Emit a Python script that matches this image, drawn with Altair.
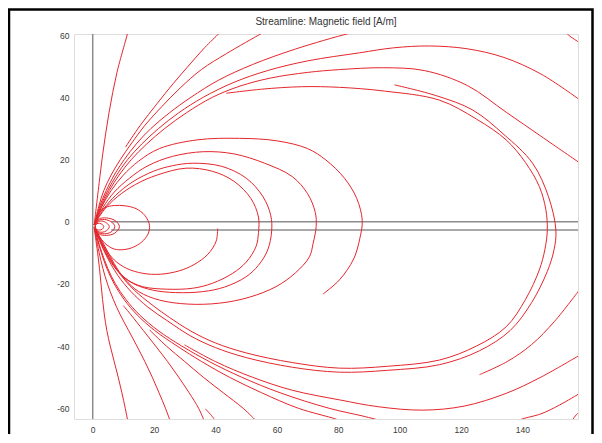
import altair as alt
import pandas as pd

# ---------------- axes / layout values ----------------
x_domain = [-6.1, 158.1]
y_domain = [-63.45, 60.35]
x_ticks = [0, 20, 40, 60, 80, 100, 120, 140]
y_ticks = [-60, -40, -20, 0, 20, 40, 60]
title_text = "Streamline: Magnetic field [A/m]"

# geometry lines (gray): vertical axis line and the two horizontal rod edges
axis_line_x = 0.0
rod_y = [0.0, -2.7]
rod_x_start = 6.0

# ---------------- streamlines (data units) ----------------
# upper fan
line_A = [(0.5, -1), (1.2, 5), (1.8, 10), (3.3, 22), (5.3, 35), (7.9, 48), (11.3, 60.4), (11.4, 61)]
line_B = [(10.7, 24), (15.5, 31), (21, 38), (26.3, 44.5), (32, 51), (36.5, 56), (41, 60.4), (41.5, 61)]
line_C = [(0.5, -1), (2.0, 5), (3.6, 10), (6, 15), (9, 20), (12.5, 25), (17, 31), (22.5, 37), (28.5, 43),
          (35.5, 49), (43.5, 54), (54.8, 60.4), (56, 61)]
line_D = [(0.5, -1), (2.3, 5), (4.4, 10), (7, 15), (10.3, 20), (14.2, 25), (19, 30), (25, 35), (32, 40),
          (41, 45.5), (52, 50.5), (66, 55.5), (83, 60.4), (86, 61)]
line_L1 = [(0.5, -1), (2.6, 5), (4.9, 10), (7.8, 15), (11.4, 20), (16, 25), (21.5, 30), (28, 35), (36, 40),
           (46, 44.8), (57, 48.6), (70, 51.7), (86.9, 54.3), (98, 55.9), (109.7, 56.5), (122, 55.6),
           (134, 52.8), (146, 47.5), (158.5, 39.3)]
line_L2 = [(0.5, -1), (2.9, 5), (5.4, 10), (8.6, 15), (12.6, 20), (17.6, 25), (23.5, 30), (30.5, 35), (39, 40),
           (48, 43.6), (58, 46.2), (70, 48), (80.4, 48.9), (94.5, 49.5), (108, 48.6), (122, 43.8),
           (134.7, 35.2), (146, 27.5), (158.5, 19)]
line_L3 = [(43.5, 41.3), (55, 42.6), (68, 43.4), (80.4, 43.2), (95, 42), (112.9, 39.1), (125, 33), (134.7, 26.3),
           (141, 19), (145.5, 11.3), (147.6, 4), (148.1, -2.7), (147.3, -9), (145.5, -15.5), (141, -25),
           (134.7, -33.8), (125, -40), (112.9, -44.5), (96, -46.5), (80.4, -47.1), (65, -45.3), (50, -42.2),
           (40, -39), (32, -35.2), (25, -30.8), (19, -26.5), (13.5, -22), (9, -17), (5.5, -11.5), (2.8, -6.5),
           (0.5, -2)]
line_L4 = [(98.3, 44), (112, 40.5), (123.8, 35.9), (134, 28), (143.3, 18.8), (148.5, 8), (150.9, -2.7),
           (150.3, -9), (148.1, -16), (143, -26), (136, -35), (126, -41.5), (112.9, -46), (96, -47.8),
           (80.4, -48.4), (65, -46.8), (50, -43.7), (40, -40.5), (32, -36.8), (24.5, -32), (18, -27.5),
           (12.5, -22.5), (8.2, -17.3), (5, -12), (2.5, -6.8), (0.5, -2)]
# loops crossing the rod
loop_87 = [(0.5, -1), (2.8, 4.5), (6, 10), (10, 15), (15, 19.5), (21.7, 23.5), (34, 26.3), (47.8, 26.8),
           (60, 26), (70, 23.5), (76, 19.8), (82, 14), (86, 7.5), (87.8, 0.5), (87, -5.5), (85, -12),
           (80.4, -18.7), (75, -23.3)]
loop_73 = [(0.5, -1), (3.3, 4.5), (7, 9.5), (12, 14), (18, 18), (26, 21), (36, 22.5), (46, 21.8), (56, 18.8),
           (65, 14.5), (70, 9), (72.5, 3), (72.8, -1.5), (71.8, -7), (70.6, -11.3), (66, -16.5), (59.7, -20.9),
           (51, -24.3), (41.3, -26.2), (31, -26.5), (21.7, -25.2), (15, -22.5), (10.5, -18.5), (7, -13.5),
           (4, -8), (1.5, -3.5), (0.5, -2)]
loop_58 = [(0.5, -1), (3.5, 4), (7.5, 8.5), (13, 12.8), (20, 16.3), (26, 18), (32.6, 18.8), (42, 17.8),
           (50, 14), (55.5, 8), (58, 2), (58.3, -3), (57, -9.1), (54, -14), (50, -17.7), (43, -21),
           (35.8, -22.5), (27, -22.8), (19.5, -22), (13, -19.8), (8.5, -16.3), (5, -11.5), (2.2, -5.8),
           (0.5, -2)]
loop_54 = [(0.5, -1), (3.7, 3.8), (8, 8), (14, 12), (21, 15), (30.4, 17.2), (39, 16.2), (46, 13), (51.5, 7.5),
           (54, 1.5), (54, -3.5), (53.2, -8), (50, -13), (45.6, -16.6), (39, -19.8), (32.6, -21.4), (24, -21.7),
           (16.3, -20.9), (11.5, -18.8), (7.8, -15.3), (5, -11), (2.3, -5.5), (0.5, -2)]
open_41 = [(40.7, -2.2), (40.2, -6.3), (37.5, -10.5), (33, -13.8), (28.2, -15.8), (22, -16.9), (16.3, -16.6),
           (11, -15), (7, -12.3), (4, -8.5), (1.8, -4.5), (0.5, -2)]
loop_18 = [(0.5, -1), (1.8, 2.5), (4, 4.5), (7, 5.2), (10.5, 5.1), (14.1, 4.2), (17, 2), (18.5, -1.2), (18, -4),
           (16, -6.5), (13, -8.3), (10, -9), (7, -8.8), (4, -7), (2, -4.5), (0.5, -2)]
# lower fan
line_F1 = [(0.5, -2), (0.9, -5), (1.6, -10), (2.2, -15), (2.7, -20), (3.2, -25), (3.8, -30), (4.6, -35),
           (5.7, -40), (7, -45), (8.3, -50), (9.5, -55), (10.6, -60), (11.4, -64)]
line_F2 = [(0.5, -2), (1.1, -5), (2.1, -10), (3.3, -15), (4.8, -20), (6.7, -25), (9.0, -30), (11.7, -35),
           (14.4, -40), (17, -45), (19.4, -50), (21.6, -55), (23.7, -60), (25.2, -64)]
line_F3 = [(10, -27), (12.5, -30), (16.5, -35), (20.5, -40), (24.4, -45), (28, -50), (31.4, -55), (34.5, -60),
           (36.3, -64)]
line_F4 = [(18.5, -34.8), (24, -40), (30, -45), (36, -50), (42.5, -55), (49, -60), (53.2, -64)]
line_stub = [(36.7, -60.2), (38.4, -62), (40, -64)]
line_G1 = [(0.5, -2), (1.3, -5), (2.8, -10), (4.6, -15), (7, -20), (10.2, -25), (14.5, -30), (20.2, -35),
           (27.5, -40), (35.5, -45), (44.5, -50), (55, -55), (67, -60), (79, -63.4), (80.5, -64)]
line_G2 = [(0.5, -2), (1.4, -5), (3.0, -10), (4.9, -15), (7.4, -20), (10.8, -25), (15.3, -30), (21.3, -35),
           (29, -40), (38, -45), (48.5, -50), (61, -55), (77, -60), (88, -62.5), (94, -64)]
line_M = [(29.9, -39.6), (40, -45), (52, -50), (65, -54.2), (80.4, -57.3), (93, -59.5), (107.5, -60.6),
          (121, -59.3), (134.7, -55.2), (146, -50), (158.5, -43)]
line_R = [(126, -49.2), (135, -45), (143, -39.5), (150.5, -32), (158.5, -22)]
line_Q = [(158.5, -55.3), (152, -59), (146, -61.8), (140, -63.4), (138.5, -64)]
line_corner_br = [(156.2, -64), (157.2, -62.5), (158.5, -61.2)]
line_corner_tr = [(154, 61), (155.5, 59.6), (157, 58.6), (158.5, 57.6)]
# small closed loops around the rod tip
ring_1 = [(0.8, -1.6), (1.3, -0.7), (2.2, -0.5), (3.1, -0.9), (3.6, -1.6), (3.1, -2.4), (2.2, -2.7), (1.3, -2.5)]
ring_2 = [(0.8, -1.6), (1.5, -0.2), (3, 0.2), (4.5, -0.4), (5.4, -1.6), (4.5, -2.9), (3, -3.4), (1.5, -3.0)]
ring_3 = [(0.8, -1.6), (1.8, 0.3), (3.8, 0.7), (6, 0), (7.2, -1.6), (6, -3.3), (3.8, -3.9), (1.8, -3.4)]
ring_4 = [(0.8, -1.6), (2, 0.8), (4.5, 1.2), (7.2, 0.4), (8.7, -1.6), (7.2, -3.7), (4.5, -4.4), (2, -3.9)]

open_lines = [
    ("A", line_A), ("B", line_B), ("C", line_C), ("D", line_D), ("L1", line_L1), ("L2", line_L2),
    ("L3", line_L3), ("L4", line_L4), ("P87", loop_87), ("P73", loop_73), ("P58", loop_58),
    ("P54", loop_54), ("O41", open_41), ("P18", loop_18), ("F1", line_F1), ("F2", line_F2),
    ("F3", line_F3), ("F4", line_F4), ("stub", line_stub), ("G1", line_G1), ("G2", line_G2),
    ("M", line_M), ("R", line_R), ("Q", line_Q), ("cbr", line_corner_br), ("ctr", line_corner_tr),
]
closed_lines = [("r1", ring_1), ("r2", ring_2), ("r3", ring_3), ("r4", ring_4)]


def to_frame(named):
    rows = []
    for name, pts in named:
        for i, (x, y) in enumerate(pts):
            rows.append({"line": name, "ord": i, "x": x, "y": y})
    return pd.DataFrame(rows)


df_open = to_frame(open_lines)
df_closed = to_frame(closed_lines)

df_geo = pd.DataFrame([
    {"x": axis_line_x, "x2": axis_line_x, "y": y_domain[0], "y2": y_domain[1]},
    {"x": rod_x_start, "x2": x_domain[1], "y": rod_y[0], "y2": rod_y[0]},
    {"x": rod_x_start, "x2": x_domain[1], "y": rod_y[1], "y2": rod_y[1]},
])

RED = "#e4262c"
GRAY = "#8c8c8c"
FONT = "Liberation Sans"

xs = alt.Scale(domain=x_domain, nice=False, zero=False)
ys = alt.Scale(domain=y_domain, nice=False, zero=False)
x_axis = alt.Axis(values=x_ticks, ticks=False, grid=False, domain=False, title=None,
                  labelExpr="'' + datum.value",
                  labelFontSize=8.5, labelFont=FONT, labelColor="#3a3a3a", labelPadding=6)
y_axis = alt.Axis(values=y_ticks, ticks=False, grid=False, domain=False, title=None,
                  labelExpr="'' + datum.value",
                  labelFontSize=8.5, labelFont=FONT, labelColor="#3a3a3a", labelPadding=5)

geo = alt.Chart(df_geo).mark_rule(color=GRAY, strokeWidth=1.5).encode(
    x=alt.X("x:Q", scale=xs, axis=x_axis), x2="x2:Q",
    y=alt.Y("y:Q", scale=ys, axis=y_axis), y2="y2:Q",
)

stream_open = alt.Chart(df_open).mark_line(
    color=RED, strokeWidth=1, interpolate="catmull-rom", clip=True
).encode(
    x=alt.X("x:Q", scale=xs, axis=x_axis),
    y=alt.Y("y:Q", scale=ys, axis=y_axis),
    detail="line:N", order="ord:Q",
)

stream_closed = alt.Chart(df_closed).mark_line(
    color=RED, strokeWidth=1, interpolate="cardinal-closed", clip=True
).encode(
    x=alt.X("x:Q", scale=xs, axis=x_axis),
    y=alt.Y("y:Q", scale=ys, axis=y_axis),
    detail="line:N", order="ord:Q",
)

# plot title drawn as a text mark centred above the plot frame
title_mark = alt.Chart(pd.DataFrame({"t": [title_text]})).mark_text(
    font=FONT, fontSize=10, color="#333333", align="center", baseline="middle"
).encode(text="t:N", x=alt.value(252), y=alt.value(-12))

# outer black picture frame
border = alt.Chart(pd.DataFrame({"k": [0]})).mark_rect(
    filled=False, stroke="black", strokeWidth=2.5
).encode(
    x=alt.value(-65), x2=alt.value(518.5), y=alt.value(-24.5), y2=alt.value(480)
)

chart = alt.layer(geo, stream_open, stream_closed, title_mark, border).properties(
    width=504,
    height=385,
    autosize=alt.AutoSizeParams(type="none"),
    padding={"left": 66, "top": 26, "right": 16, "bottom": 15},
).configure_view(stroke="#9a9a9a", strokeWidth=1.2).configure(background="white")

chart.save("out.html", embed_options={"renderer": "svg", "actions": False})
